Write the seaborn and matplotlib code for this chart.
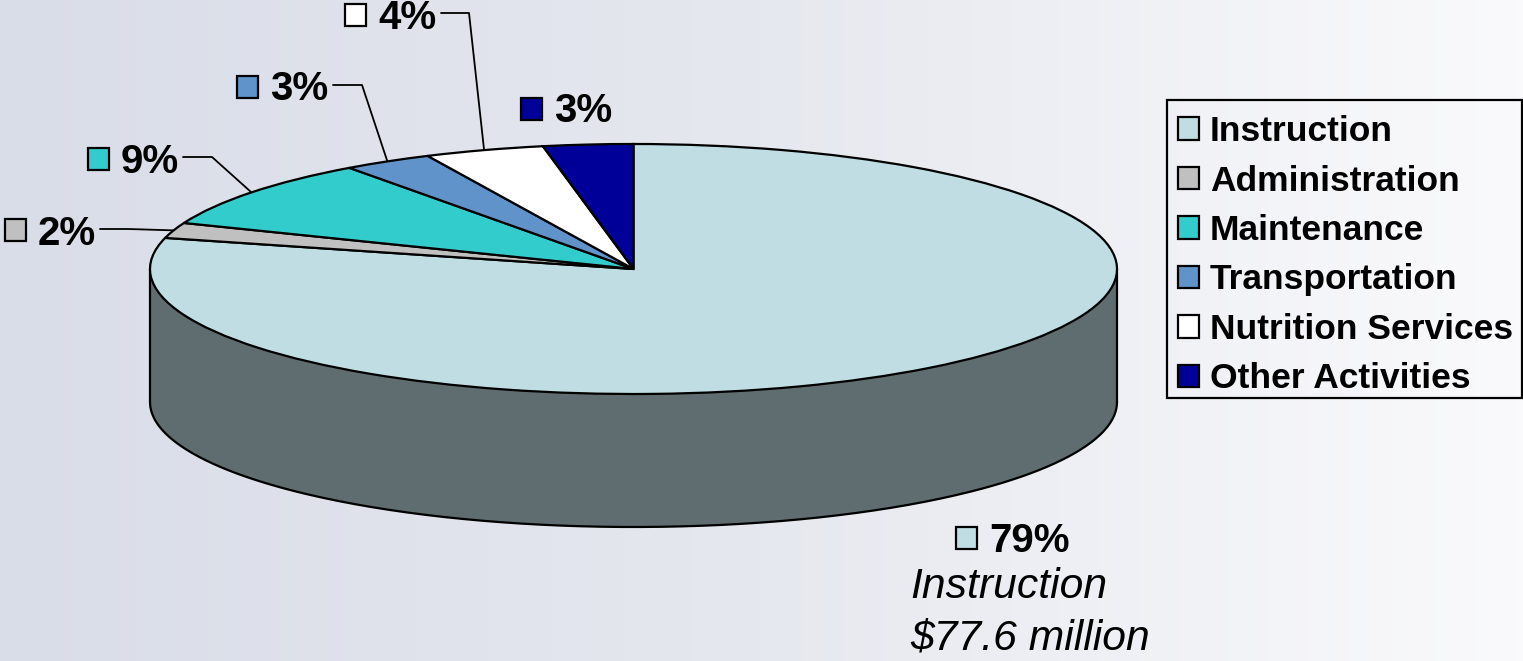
import numpy as np
import matplotlib
matplotlib.use("Agg")
import matplotlib.pyplot as plt
from matplotlib.colors import LinearSegmentedColormap
from matplotlib.patches import Patch, Rectangle
import seaborn as sns

# Budget shares by category
categories = ["Instruction", "Administration", "Maintenance",
              "Transportation", "Nutrition Services", "Other Activities"]
shares = [79, 2, 9, 3, 4, 3]
colors = ["#BFDDE3", "#C0C0C0", "#33CCCC", "#5F93C9", "#FFFFFF", "#000099"]
side_color = "#5F6D70"
note_lines = ["Instruction", "$77.6 million"]

sns.set_theme(style="white")
plt.rcParams["font.family"] = ["Liberation Sans", "DejaVu Sans"]

W, H = 1523, 661
EDGE = 1.6
fig = plt.figure(figsize=(W / 100, H / 100), dpi=100)

# Full-figure canvas measured in pixels, y pointing down
canvas = fig.add_axes([0, 0, 1, 1])
canvas.set_xlim(0, W)
canvas.set_ylim(H, 0)
canvas.axis("off")
ramp = LinearSegmentedColormap.from_list(
    "wash", ["#D9DDE8", "#E6E8EF", "#FAFAFC"])
canvas.imshow(np.linspace(0, 1, 256)[None, :], cmap=ramp, aspect="auto",
              extent=(0, W, H, 0), zorder=0)

# Tilted pie: an elliptical pie top above a cylindrical side wall
cx, cy, rx, ry, depth = 633.5, 269.0, 483.5, 125.0, 133.0
pie_ax = fig.add_axes([(cx - rx) / W, 1 - (cy + ry) / H, 2 * rx / W, 2 * ry / H],
                      zorder=2)
pie_ax.patch.set_alpha(0)
theta = np.linspace(np.pi, 2 * np.pi, 300)
rim_x, rim_y = np.cos(theta), np.sin(theta)
pie_ax.fill_between(rim_x, rim_y, rim_y - depth / ry, color=side_color,
                    edgecolor="none", clip_on=False, zorder=0)
pie_ax.plot(rim_x, rim_y - depth / ry, color="black", lw=EDGE, clip_on=False, zorder=1)
for side in (-1, 1):
    pie_ax.plot([side, side], [0, -depth / ry], color="black", lw=EDGE,
                clip_on=False, zorder=1)
pie_ax.pie(shares, colors=colors, startangle=90, counterclock=False, radius=1,
           wedgeprops={"edgecolor": "black", "linewidth": EDGE, "clip_on": False,
                       "zorder": 2})
pie_ax.set_aspect("auto")
pie_ax.set_xlim(-1, 1)
pie_ax.set_ylim(-1, 1)

# Percentage tags: swatch corner (x, y) and text baseline per category
tag_pos = {
    "Instruction": (956, 527, 552),
    "Administration": (5, 219, 245),
    "Maintenance": (88, 148, 173),
    "Transportation": (237, 76, 100),
    "Nutrition Services": (345, 4, 29),
    "Other Activities": (521, 98, 122),
}
# Leader elbows for the tags that carry one: text-side start x, elbow x, elbow y
leader_pos = {
    "Administration": (100, 128, 229),
    "Maintenance": (183, 212, 157),
    "Transportation": (333, 362, 85),
    "Nutrition Services": (441, 469, 13),
}

cumulative = np.cumsum([0] + shares)
for name, share, color, start in zip(categories, shares, colors, cumulative):
    sx, sy, base = tag_pos[name]
    canvas.add_patch(Rectangle((sx, sy), 21, 22, facecolor=color, edgecolor="black",
                               linewidth=EDGE, zorder=3))
    canvas.text(sx + 33, base, f"{share}%", fontsize=29, fontweight="bold",
                color="black", ha="left", va="baseline", zorder=3)
    if name in leader_pos:
        x0, x1, y1 = leader_pos[name]
        # the leader lands on the rim at the middle of its wedge
        angle = 2 * np.pi * (start + share / 2) / sum(shares)
        end_x = cx + rx * np.sin(angle)
        end_y = cy - ry * np.cos(angle)
        canvas.plot([x0, x1, end_x], [y1, y1, end_y], color="black", lw=1.3, zorder=1)

for line, baseline in zip(note_lines, (598, 649)):
    canvas.text(910, baseline, line, fontsize=30.7, fontstyle="italic",
                color="black", ha="left", va="baseline", zorder=3)

# Boxed legend, running up to the right edge of the figure
canvas.add_patch(Rectangle((1167, 100), 355, 298, facecolor="none", edgecolor="black",
                           linewidth=EDGE, zorder=3))
handles = [Patch(facecolor=c, edgecolor="black", linewidth=EDGE, label=n)
           for n, c in zip(categories, colors)]
legend = canvas.legend(
    handles=handles, loc="upper left", bbox_to_anchor=(1166 / W, 1 - 103 / H),
    bbox_transform=fig.transFigure, prop={"weight": "bold", "size": 25.5},
    labelcolor="black", frameon=False, borderaxespad=0, borderpad=0.34,
    labelspacing=0.465, handlelength=0.6, handleheight=0.6, handletextpad=0.3)
legend.set_zorder(3)

fig.savefig("out.png", dpi=100)
